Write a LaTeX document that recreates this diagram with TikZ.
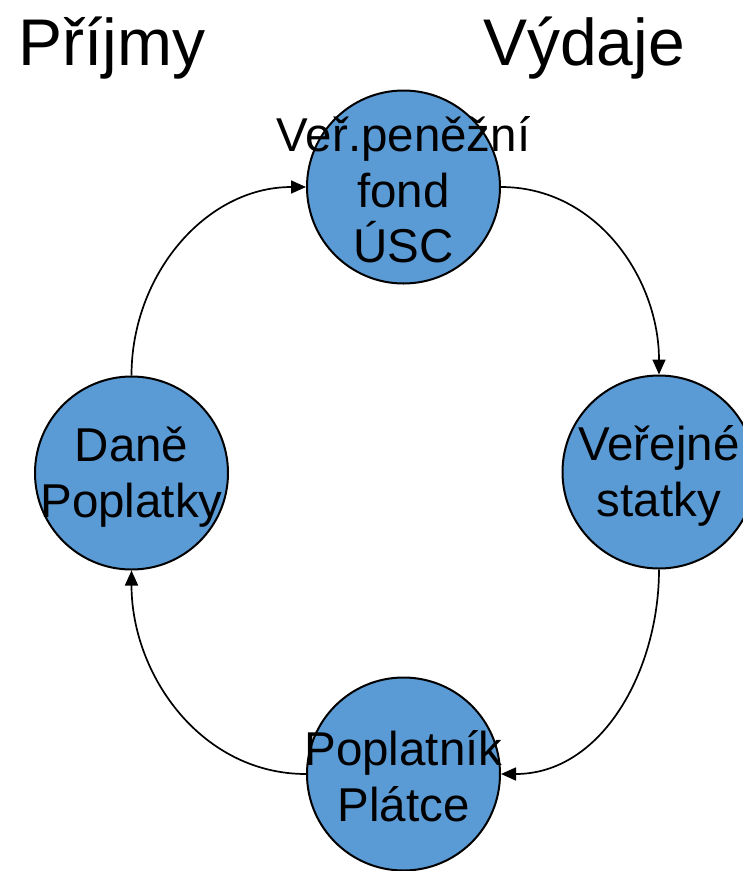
\documentclass[tikz,border=0pt]{standalone}
\usepackage{fontspec}
\setmainfont{Liberation Sans}
\usetikzlibrary{arrows.meta}
\definecolor{discblue}{RGB}{91,155,213}
\begin{document}
\begin{tikzpicture}[x=1pt,y=-1pt,
  disc/.style={circle,draw=black,line width=2pt,fill=discblue,minimum size=193pt,inner sep=0pt},
  lbl/.style={align=center,inner sep=0pt,font=\fontsize{47.5}{55.5}\selectfont},
  title/.style={anchor=base west,inner sep=0pt,font=\fontsize{66}{70}\selectfont},
  flow/.style={line width=1.7pt,-{Triangle[length=15pt,width=13pt]}}]
\useasboundingbox (0,0) rectangle (743,871);
\clip (0,0) rectangle (743,871);
\node[title] (prijmy) at (18,65) {Příjmy};
\node[title] (vydaje) at (483,65) {Výdaje};
\node[disc] (top) at (403.5,187) {};
\node[disc] (right) at (659,472) {};
\node[disc] (bottom) at (403.5,774) {};
\node[disc] (left) at (131.5,473) {};
\node[lbl] (ttop) at ([yshift=-3pt]top) {Veř.peněžní\\fond\\ÚSC};
\node[lbl] (tright) at ([yshift=-4pt]right) {Veřejné\\statky};
\node[lbl] (tbottom) at ([yshift=-2pt]bottom) {Poplatník\\Plátce};
\node[lbl] (tleft) at ([yshift=-4pt]left) {Daně\\Poplatky};
\draw[flow] (top.east) to[out=0,in=90] (right.north);
\draw[flow] (right.south) to[out=-90,in=0] (bottom.east);
\draw[flow] (bottom.west) to[out=180,in=-90] (left.south);
\draw[flow] (left.north) to[out=90,in=180] (top.west);
\end{tikzpicture}
\end{document}
